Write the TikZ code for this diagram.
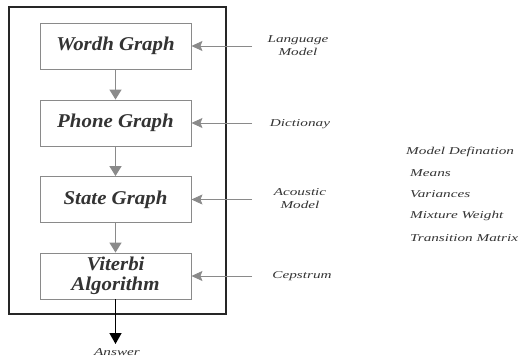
\documentclass[tikz,border=0pt]{standalone}
\usepackage{fontspec}
\setmainfont{Liberation Serif}
\newfontfamily\boxfont[FakeStretch=1.07]{Liberation Serif}
\newfontfamily\notefont[FakeStretch=1.45]{Liberation Serif}
\usetikzlibrary{arrows.meta}
\definecolor{framegray}{HTML}{8A8A8A}
\definecolor{inkgray}{HTML}{333333}
\tikzset{
  stage/.style={draw=framegray, line width=0.9pt, minimum width=151pt, minimum height=46pt,
    align=center, text=inkgray, font=\boxfont\bfseries\itshape\fontsize{19.5}{20}\selectfont, inner sep=0pt},
  note/.style={text=inkgray, align=center, font=\notefont\itshape\fontsize{10.5}{13}\selectfont, inner sep=0pt},
  listitem/.style={text=inkgray, anchor=west, font=\notefont\itshape\fontsize{10.5}{13}\selectfont, inner sep=0pt},
  flow/.style={draw=framegray, line width=1.5pt, -{Triangle[width=12pt,length=10pt]}, color=framegray},
  feed/.style={draw=framegray, line width=0.8pt, -{Stealth[width=10pt,length=11pt,inset=2pt]}, color=framegray},
}
\begin{document}
\begin{tikzpicture}[x=1pt,y=-1pt]
  \useasboundingbox (0,0) rectangle (521,362);
  % enclosing frame of the decoder
  \draw[line width=1.2pt, color=black!85] (9,7) rectangle (226,314);

  % processing stages
  \node[stage] (word)    at (115.5,46)  {Wordh Graph};
  \node[stage] (phone)   at (115.5,123) {Phone Graph};
  \node[stage] (state)   at (115.5,199.5) {State Graph};
  \node[stage] (viterbi) at (115.5,276) {Viterbi\\Algorithm};

  \draw[flow] (word) -- (phone);
  \draw[flow] (phone) -- (state);
  \draw[flow] (state) -- (viterbi);

  % output
  \node[note] (answer) at (117,352) {Answer};
  \coordinate (out) at (115.5,344);
  \draw[line width=1.3pt, -{Triangle[width=12pt,length=11pt]}] (viterbi.south) -- (out);

  % knowledge sources feeding each stage
  \node[note] (lm)   at (298,46)  {Language\\Model};
  \node[note] (dict) at (300,124) {Dictionay};
  \node[note] (am)   at (300,199) {Acoustic\\Model};
  \node[note] (cep)  at (302,276) {Cepstrum};

  \coordinate (lmsrc)   at (252,46);
  \coordinate (dictsrc) at (252,123);
  \coordinate (amsrc)   at (252,199.5);
  \coordinate (cepsrc)  at (252,276);
  \draw[feed] (lmsrc) -- (word.east);
  \draw[feed] (dictsrc) -- (phone.east);
  \draw[feed] (amsrc) -- (state.east);
  \draw[feed] (cepsrc) -- (viterbi.east);

  % acoustic model contents
  \node[listitem] (def)   at (406,152) {Model Defination};
  \node[listitem] (means) at (410,173) {Means};
  \node[listitem] (vars)  at (410,194) {Variances};
  \node[listitem] (mix)   at (410,216) {Mixture Weight};
  \node[listitem] (trans) at (410,238) {Transition Matrix};
\end{tikzpicture}
\end{document}
